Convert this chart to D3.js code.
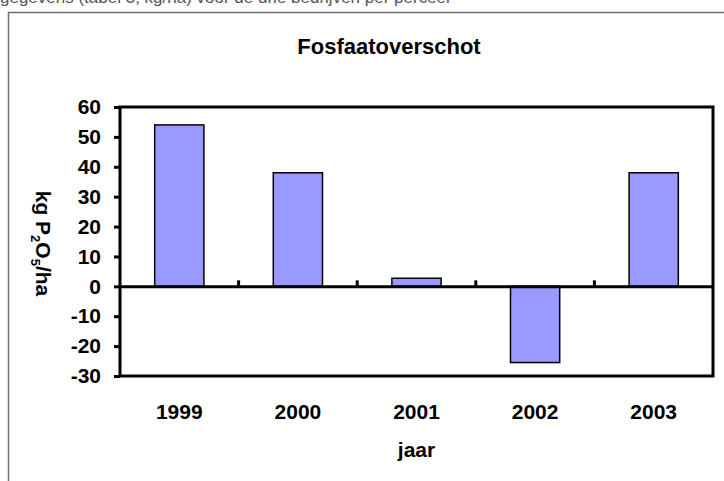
<!DOCTYPE html>
<html><head><meta charset="utf-8">
<script src="https://cdn.jsdelivr.net/npm/d3@7"></script>
<style>body{margin:0;background:#fff}svg{display:block}</style>
</head><body>
<script>
const categories = ["1999","2000","2001","2002","2003"];
const values = [54, 38, 2.7, -25.5, 38];
const yTicks = [-30,-20,-10,0,10,20,30,40,50,60];
const title = "Fosfaatoverschot";
const xTitle = "jaar";

const W = 724, H = 481;
const svg = d3.select("body").append("svg").attr("width", W).attr("height", H);
const font = "Liberation Sans, Arial, sans-serif";

// clipped text line from the page above
svg.append("text").attr("x", 0).attr("y", 3).attr("font-family", font).attr("font-size", 17)
  .attr("fill", "#555").text("gegevens (tabel 3, kg/ha) voor de drie bedrijven per perceel");

// outer frame
svg.append("path").attr("d", `M8.5,${H} V12.5 H${W}`).attr("fill", "none")
  .attr("stroke", "#707070").attr("stroke-width", 1.5);

const m = {l: 120, r: 713, t: 107, b: 376};
const x = d3.scaleBand().domain(categories).range([m.l, m.r]).paddingInner(0).paddingOuter(0);
const y = d3.scaleLinear().domain([-30, 60]).range([m.b, m.t]);

svg.append("text").attr("x", 389).attr("y", 54).attr("text-anchor", "middle")
  .attr("font-family", font).attr("font-weight", "bold").attr("font-size", 22).text(title);

// bars
const bw = x.bandwidth() * 0.415;
svg.selectAll("rect.bar").data(categories).join("rect").attr("class", "bar")
  .attr("x", d => x(d) + (x.bandwidth() - bw) / 2)
  .attr("width", bw)
  .attr("y", (d, i) => Math.min(y(values[i]), y(0)))
  .attr("height", (d, i) => Math.abs(y(values[i]) - y(0)))
  .attr("fill", "#9999FF").attr("stroke", "#000").attr("stroke-width", 1.5);

// plot frame
svg.append("rect").attr("x", m.l).attr("y", m.t).attr("width", m.r - m.l).attr("height", m.b - m.t)
  .attr("fill", "none").attr("stroke", "#000").attr("stroke-width", 3);

// y axis
const yAxis = d3.axisLeft(y).tickValues(yTicks).tickSize(6).tickPadding(13)
  .tickFormat(d => String(d));
const gy = svg.append("g").attr("transform", `translate(${m.l},0)`).call(yAxis);
gy.select(".domain").remove();
gy.selectAll("line").attr("stroke", "#000").attr("stroke-width", 3);
gy.selectAll("text").attr("font-family", font).attr("font-weight", "bold").attr("font-size", 21).attr("fill", "#000");

// zero axis with category ticks (inside, between categories)
const xAxis = d3.axisTop(x).tickSize(0).tickFormat("");
const gx = svg.append("g").attr("transform", `translate(0,${y(0)})`).call(xAxis);
gx.select(".domain").attr("stroke", "#000").attr("stroke-width", 3);
gx.selectAll(".tick").remove();
svg.selectAll("line.sep").data(categories.slice(1)).join("line").attr("class", "sep")
  .attr("x1", d => x(d)).attr("x2", d => x(d))
  .attr("y1", y(0)).attr("y2", y(0) - 6).attr("stroke", "#000").attr("stroke-width", 3);

// category labels
svg.selectAll("text.cat").data(categories).join("text").attr("class", "cat")
  .attr("x", d => x(d) + x.bandwidth() / 2).attr("y", 419).attr("text-anchor", "middle")
  .attr("font-family", font).attr("font-weight", "bold").attr("font-size", 21).text(d => d);

svg.append("text").attr("x", (m.l + m.r) / 2).attr("y", 457).attr("text-anchor", "middle")
  .attr("font-family", font).attr("font-weight", "bold").attr("font-size", 21).text(xTitle);

// y title
const yt = svg.append("text").attr("transform", `translate(36,${(m.t + m.b) / 2 + 2}) rotate(90)`)
  .attr("text-anchor", "middle").attr("font-family", font).attr("font-weight", "bold").attr("font-size", 21);
yt.append("tspan").text("kg P");
yt.append("tspan").attr("font-size", 13).attr("dy", 5).text("2");
yt.append("tspan").attr("dy", -5).text("O");
yt.append("tspan").attr("font-size", 13).attr("dy", 5).text("5");
yt.append("tspan").attr("dy", -5).text("/ha");
</script>
</body></html>
